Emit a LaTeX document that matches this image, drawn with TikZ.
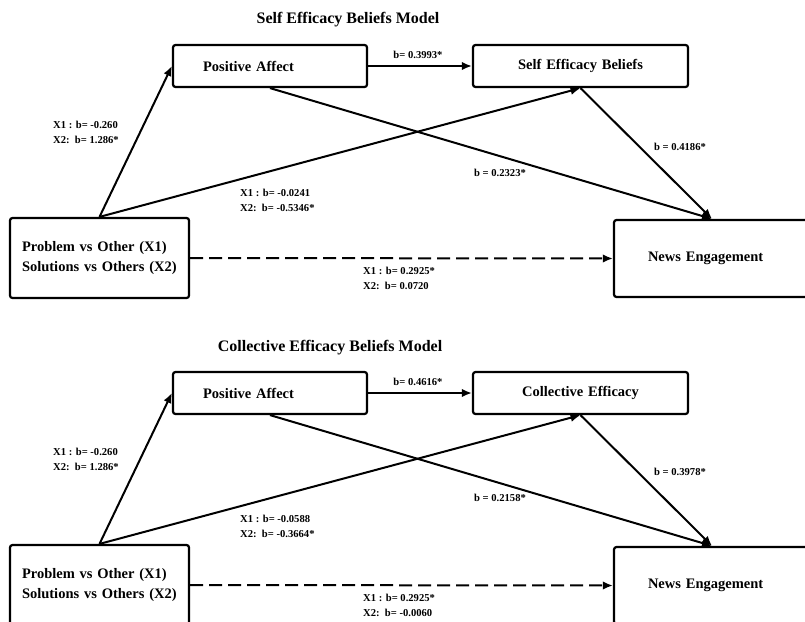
\documentclass[tikz,border=0pt]{standalone}
\usepackage{fontspec}
\setmainfont{Liberation Serif}
\usetikzlibrary{arrows.meta}
\tikzset{
  box/.style={draw,line width=2.2pt,rounded corners=2.5pt,font=\fontsize{14.5}{17}\selectfont\bfseries,align=left},
  lbl/.style={font=\fontsize{10.6}{15}\selectfont\bfseries,align=left,inner sep=0pt},
  ttl/.style={font=\fontsize{16}{19}\selectfont\bfseries,inner sep=0pt},
  arr/.style={line width=2pt,-{Latex[length=10pt,width=8.5pt]}},
  dasharr/.style={arr,dash pattern=on 13pt off 6pt},
}
\begin{document}
\begin{tikzpicture}[x=1pt,y=-1pt]
\useasboundingbox (0,0) rectangle (805,621);
\clip (0,0) rectangle (805,621);
% self efficacy model
\begin{scope}
\node[ttl] (title1) at (348,20) {Self Efficacy Beliefs Model};
\node[box,minimum height=42pt,text width=134pt,inner xsep=30pt] (pa1) at (270,66) {Positive Affect};
\node[box,minimum height=42pt,text width=195pt,inner xsep=10pt,align=center] (seb1) at (580.5,66) {Self Efficacy Beliefs};
\node[box,minimum height=80pt,text width=155pt,inner xsep=12pt] (prob1) at (99.5,258) {Problem vs Other (X1)\\[3pt]Solutions vs Others (X2)};
\node[box,minimum height=77pt,text width=128pt,inner xsep=34pt] (news1) at (712,258.5) {News Engagement};
\draw[arr] (prob1.north) -- (pa1.west);
\draw[arr] (prob1.north) -- (seb1.south);
\draw[arr] (pa1.east) -- (seb1.west);
\draw[arr] (pa1.south) -- (news1.north);
\draw[arr] (seb1.south) -- (news1.north);
\draw[dasharr] (prob1.east) -- (news1.west);
% edit here for the coefficients
\node[lbl,anchor=west] (b11) at (53,132.5) {X1 : b= -0.260\\X2:\ \ b= 1.286*};
\node[lbl,anchor=west] (b12) at (240,200) {X1 : b= -0.0241\\X2:\ \ b= -0.5346*};
\node[lbl] (b13) at (418,55) {b= 0.3993*};
\node[lbl] (b14) at (500,173) {b = 0.2323*};
\node[lbl] (b15) at (680,147) {b = 0.4186*};
\node[lbl,anchor=west] (b16) at (363,278) {X1 : b= 0.2925*\\X2:\ \ b= 0.0720};
\end{scope}
% collective efficacy model
\begin{scope}[shift={(0,327)}]
\node[ttl] (title2) at (330,21) {Collective Efficacy Beliefs Model};
\node[box,minimum height=42pt,text width=134pt,inner xsep=30pt] (pa2) at (270,66) {Positive Affect};
\node[box,minimum height=42pt,text width=195pt,inner xsep=10pt,align=center] (ce2) at (580.5,66) {Collective Efficacy};
\node[box,minimum height=80pt,text width=155pt,inner xsep=12pt] (prob2) at (99.5,258) {Problem vs Other (X1)\\[3pt]Solutions vs Others (X2)};
\node[box,minimum height=77pt,text width=128pt,inner xsep=34pt] (news2) at (712,258.5) {News Engagement};
\draw[arr] (prob2.north) -- (pa2.west);
\draw[arr] (prob2.north) -- (ce2.south);
\draw[arr] (pa2.east) -- (ce2.west);
\draw[arr] (pa2.south) -- (news2.north);
\draw[arr] (ce2.south) -- (news2.north);
\draw[dasharr] (prob2.east) -- (news2.west);
% edit here for the coefficients
\node[lbl,anchor=west] (b21) at (53,132.5) {X1 : b= -0.260\\X2:\ \ b= 1.286*};
\node[lbl,anchor=west] (b22) at (240,199.5) {X1 : b= -0.0588\\X2:\ \ b= -0.3664*};
\node[lbl] (b23) at (418,55) {b= 0.4616*};
\node[lbl] (b24) at (500,171) {b = 0.2158*};
\node[lbl] (b25) at (680,145) {b = 0.3978*};
\node[lbl,anchor=west] (b26) at (363,278) {X1 : b= 0.2925*\\X2:\ \ b= -0.0060};
\end{scope}
\end{tikzpicture}
\end{document}
